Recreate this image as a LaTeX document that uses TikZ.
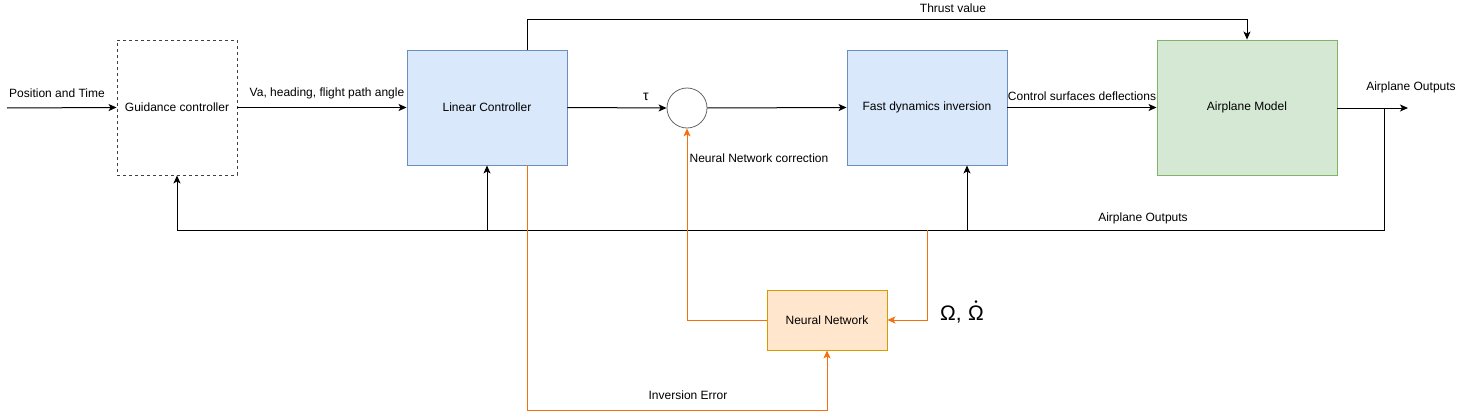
\documentclass[tikz,border=0pt]{standalone}
\usepackage{fontspec}
\setmainfont{Liberation Sans}
\usetikzlibrary{arrows.meta}
\definecolor{bluefill}{HTML}{DAE8FC}
\definecolor{bluedraw}{HTML}{6C8EBF}
\definecolor{greenfill}{HTML}{D5E8D4}
\definecolor{greendraw}{HTML}{82B366}
\definecolor{orfill}{HTML}{FFE6CC}
\definecolor{ordraw}{HTML}{D79B00}
\definecolor{orline}{HTML}{F4700E}
\begin{document}
\begin{tikzpicture}[x=1pt,y=-1pt,
  font=\fontsize{12}{14}\selectfont,
  blk/.style={draw, line width=0.9pt, minimum width=#1, inner sep=0pt, align=center},
  conn/.style={line width=1pt, -{Stealth[length=8pt,width=7pt,inset=2pt]}},
  plain/.style={line width=1pt},
  oconn/.style={conn, draw=orline},
  oplain/.style={plain, draw=orline},
  lbl/.style={inner sep=0pt},
  big/.style={font=\fontsize{21}{24}\selectfont}]
\useasboundingbox (0,0) rectangle (1468,420);
% blocks
\node[blk=120pt, minimum height=135pt, draw=black!75, dashed] (guid) at (177,107.5) {Guidance controller};
\node[blk=160pt, minimum height=115pt, fill=bluefill, draw=bluedraw] (lin) at (487,107.5) {Linear Controller};
\node[circle, draw=black!60, line width=0.8pt, minimum size=40pt, inner sep=0pt] (sum) at (687,108) {};
\node[blk=160pt, minimum height=115pt, fill=bluefill, draw=bluedraw] (fast) at (927,107.5) {Fast dynamics inversion};
\node[blk=180pt, minimum height=135pt, fill=greenfill, draw=greendraw] (plane) at (1247,107.5) {Airplane Model};
\node[blk=120pt, minimum height=60pt, fill=orfill, draw=ordraw] (nn) at (827,320) {Neural Network};
% coordinates
\coordinate (in) at (7,108);
\coordinate (out) at (1408,108);
\coordinate (tap) at (1384,108);
\coordinate (fbR) at (1384,230);
\coordinate (fbL) at (177,230);
\coordinate (fbLin) at (487,230);
\coordinate (fbFast) at (967,230);
\coordinate (fbNN) at (927,230);
% main path
\draw[conn] (in) -- (guid.west);
\draw[conn] (guid.east) -- (lin.west);
\draw[conn] (lin.east) -- (sum.west);
\draw[conn] (sum.east) -- (fast.west);
\draw[conn] (fast.east) -- (fast.east -| plane.west);
\draw[conn] (plane.east |- out) -- (out);
% thrust
\draw[conn] (lin.north -| 527,0) -- (527,20) -- (1247,20) -- (plane.north);
% feedback
\draw[plain] (tap) -- (fbR) -- (fbL);
\draw[conn] (fbL) -- (guid.south);
\draw[conn] (fbLin) -- (lin.south);
\draw[conn] (fbFast) -- (fbFast |- fast.south);
% orange
\draw[oconn] (fbNN) -- (927,320) -- (nn.east);
\draw[oconn] (nn.west) -- (687,320) -- (sum.south);
\draw[oconn] (lin.south -| 527,0) -- (527,410) -- (827,410) -- (nn.south);
% labels
\node[lbl] (l1) at (57,93) {Position and Time};
\node[lbl] (l2) at (327,93) {Va, heading, flight path angle};
\node[lbl, font=\fontsize{14}{16}\selectfont] (l3) at (646,97) {τ};
\node[lbl] (l4) at (953,8) {Thrust value};
\node[lbl] (l5) at (1082,96) {Control surfaces deflections};
\node[lbl] (l6) at (1411,87) {Airplane Outputs};
\node[lbl] (l7) at (1143,218) {Airplane Outputs};
\node[lbl] (l8) at (759,158) {Neural Network correction};
\node[lbl] (l9) at (688,395) {Inversion Error};
\node[lbl, big, anchor=base west] (l10a) at (940,320) {Ω,};
\node[lbl, big, anchor=base west] (l10b) at ([xshift=6pt]l10a.base east) {Ω};
\fill (l10b.north) ++(0,-3.5) circle (1.4pt);
\end{tikzpicture}
\end{document}
